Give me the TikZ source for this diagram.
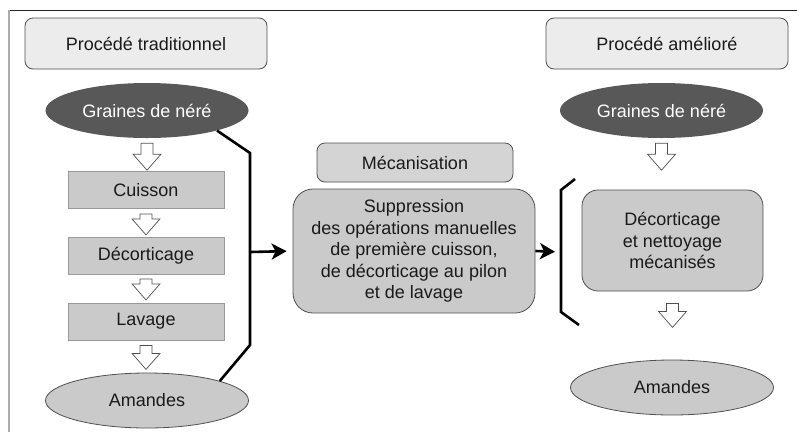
\documentclass[tikz,border=0pt]{standalone}
\usepackage{fontspec}
\setmainfont{Liberation Sans}
\usetikzlibrary{positioning,arrows.meta,shapes.geometric,calc}
\definecolor{titlegray}{RGB}{236,236,236}
\definecolor{stepgray}{RGB}{202,202,202}
\definecolor{mecagray}{RGB}{212,212,212}
\definecolor{seedgray}{RGB}{88,88,88}
\definecolor{edgegray}{RGB}{80,80,80}
\definecolor{inkgray}{RGB}{26,26,26}

\begin{document}
\begin{tikzpicture}[
  x=1pt,y=-1pt,
  every node/.style={font=\fontsize{18}{21.5}\selectfont,align=center,inner sep=0pt,text=inkgray},
  titlebox/.style={draw=edgegray,line width=0.8pt,rounded corners=8pt,fill=titlegray,minimum width=242pt,minimum height=51pt},
  stepbox/.style={draw=gray!80,line width=0.8pt,fill=stepgray,minimum width=156pt,minimum height=37pt},
  roundbox/.style={draw=edgegray,line width=0.8pt,fill=stepgray},
  seed/.style={ellipse,fill=seedgray,text=white,minimum width=203pt,minimum height=55pt},
  kernel/.style={ellipse,draw=edgegray,line width=0.8pt,fill=stepgray,minimum width=203pt,minimum height=55pt},
  bracket/.style={line width=2.6pt,line join=miter},
  link/.style={line width=2.6pt,-{Stealth[length=15pt,width=16pt,inset=4pt]},shorten >=6pt},
  pics/harrow/.style={code={
    \draw[edgegray,fill=white,line width=0.7pt] (-6,0) -- (6,0) -- (6,#1-16) -- (14,#1-16)
      -- (0,#1) -- (-14,#1-16) -- (-6,#1-16) -- cycle;}}
]
  \useasboundingbox (0,0) rectangle (797,432);
  % frame
  \draw[line width=1pt,black!85] (9,10) -- (797,10);
  \draw[line width=2pt,gray!65] (9,10) -- (9,432);

  % traditional process
  \node[titlebox] (trad) at (146,43.5) {Procédé traditionnel};
  \node[seed]     (grainesA) at (147,110.5) {Graines de néré};
  \node[stepbox]  (cuisson)  at (146,190)   {Cuisson};
  \node[stepbox]  (decortA)  at (146,256)   {Décorticage};
  \node[stepbox]  (lavage)   at (146,321.5) {Lavage};
  \node[kernel]   (amandesA) at (147,400.5) {Amandes};
  \path ($(grainesA.south)+(0,5)$) pic {harrow=27};
  \path ($(cuisson.south)+(0,5)$)  pic {harrow=21};
  \path ($(decortA.south)+(0,4)$)  pic {harrow=21};
  \path ($(lavage.south)+(0,5)$)   pic {harrow=24};

  % mechanisation
  \node[roundbox,fill=mecagray,rounded corners=8pt,minimum width=196pt,minimum height=39pt]
    (meca) at (415,162.5) {Mécanisation};
  \node[roundbox,rounded corners=20pt,minimum width=242pt,minimum height=124pt]
    (suppr) at (414,251) {Suppression\\des opérations manuelles\\de première cuisson,\\de décorticage au pilon\\et de lavage};

  % improved process
  \node[titlebox] (amel) at (667,43.5) {Procédé amélioré};
  \node[seed]     (grainesB) at (661.5,110.5) {Graines de néré};
  \node[roundbox,rounded corners=16pt,minimum width=181pt,minimum height=101pt]
    (decortB) at (672.5,240.5) {Décorticage\\et nettoyage\\mécanisés};
  \node[kernel]   (amandesB) at (672,387.5) {Amandes};
  \path ($(grainesB.south)+(0,5)$) pic {harrow=27};
  \path ($(decortB.south)+(0,12)$) pic {harrow=24};

  % brackets and links
  \coordinate (lbtop) at (250,153);
  \coordinate (lbbot) at (250,345);
  \coordinate (lbmid) at (250,252);
  \draw[bracket] (grainesA.-16) -- (lbtop) -- (lbbot) -- (amandesA.15);
  \coordinate (rbend1) at (575,179);
  \coordinate (rbtop) at (561,190);
  \coordinate (rbbot) at (561,312);
  \coordinate (rbend2) at (579,325);
  \coordinate (rbmid) at (561,252);
  \draw[bracket] (rbend1) -- (rbtop) -- (rbbot) -- (rbend2);
  \draw[link] (lbmid) -- (suppr.west);
  \draw[link] (suppr.east) -- (rbmid);
\end{tikzpicture}
\end{document}
